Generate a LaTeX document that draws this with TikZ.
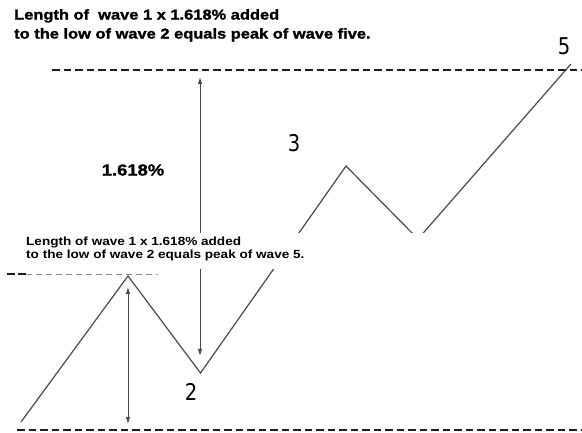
\documentclass[tikz,border=0pt]{standalone}
\usepackage{fontspec}
\usetikzlibrary{arrows.meta}
\newfontfamily\titlefont[FakeStretch=1.15,FakeBold=1.5]{Liberation Sans}
\newfontfamily\notefont[FakeStretch=1.15]{Liberation Sans}
\newfontfamily\fibfont[FakeStretch=1.15,FakeBold=1.2]{Liberation Sans}
\newfontfamily\countfont[FakeStretch=0.85]{DejaVu Sans}
\definecolor{waveline}{HTML}{4A4A4A}
\definecolor{levelgrey}{HTML}{1E1E1E}
\definecolor{thingrey}{HTML}{8C8C8C}

\begin{document}
\begin{tikzpicture}[x=1pt, y=-1pt,
  wavepath/.style={waveline, line width=1.2pt, line join=miter},
  levelline/.style={levelgrey, line width=2.2pt, dash pattern=on 7.5pt off 4pt},
  ruler/.style={waveline, line width=0.9pt,
    {Latex[length=7pt,width=4.4pt]}-{Latex[length=7pt,width=4.4pt]}},
  countlabel/.style={font=\countfont\fontsize{23}{23}\selectfont, inner sep=0pt},
  notelabel/.style={inner sep=0pt, align=left, text=black}]
  \useasboundingbox (0,0) rectangle (582,433);

  % ---------- wave points ----------
  \coordinate (w0) at (21,422);
  \coordinate (w1) at (128,276);
  \coordinate (w2) at (200.5,373);
  \coordinate (w3) at (346,166);
  \coordinate (w4) at (418,239);
  \coordinate (w5) at (571,64);

  \draw[wavepath] (w0) -- (w1) -- (w2) -- (w3) -- (w4) -- (w5);

  % ---------- level lines ----------
  \coordinate (topL) at (52,70);   \coordinate (topR) at (582,70);
  \coordinate (botL) at (17,430);  \coordinate (botR) at (582,430);
  \coordinate (oneL) at (7,274);   \coordinate (oneM) at (26,274);
  \coordinate (oneR) at (158,274);
  \draw[levelline] (topL) -- (topR);
  \draw[levelline] (botL) -- (botR);
  \draw[levelgrey, line width=2pt, dash pattern=on 8pt off 3pt] (oneL) -- (oneM);
  \draw[thingrey, line width=0.9pt, dash pattern=on 6pt off 4pt] (oneM) -- (oneR);

  % ---------- rulers ----------
  \coordinate (fibTop) at (200,77);  \coordinate (fibBot) at (200,356);
  \coordinate (oneTop) at (128,287); \coordinate (oneBot) at (128,424);
  \draw[ruler] (fibTop) -- (fibBot);
  \draw[ruler] (oneTop) -- (oneBot);

  % pasted note hides the low of wave 4
  \fill[white] (0,233) rectangle (445,269);

  % ---------- texts ----------
  \node[notelabel, anchor=north west,
    font=\titlefont\bfseries\fontsize{14.3}{19}\selectfont] (title) at (14,9)
    {Length of\ \ wave 1 x 1.618\% added\\to the low of wave 2 equals peak of wave five.};
  \node[notelabel, anchor=north west,
    font=\notefont\bfseries\fontsize{11.8}{13}\selectfont] (note) at (26,236.5)
    {Length of wave 1 x 1.618\% added\\to the low of wave 2 equals peak of wave 5.};
  \node[notelabel, font=\fibfont\bfseries\fontsize{16}{16}\selectfont] (fib) at (133,170) {1.618\%};

  \node[countlabel] (lab2) at (191,392) {2};
  \node[countlabel] (lab3) at (294,143) {3};
  \node[countlabel] (lab5) at (564,46) {5};
\end{tikzpicture}
\end{document}
